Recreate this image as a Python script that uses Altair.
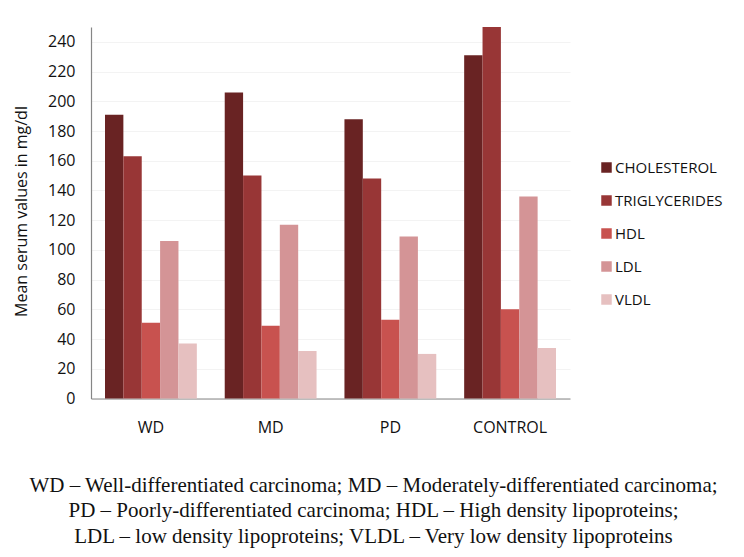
import altair as alt
import pandas as pd

groups = ["WD", "MD", "PD", "CONTROL"]
lipids = ["CHOLESTEROL", "TRIGLYCERIDES", "HDL", "LDL", "VLDL"]
cholesterol = [191, 206, 188, 231]
triglycerides = [163, 150, 148, 250]
hdl = [51, 49, 53, 60]
ldl = [106, 117, 109, 136]
vldl = [37, 32, 30, 34]
colors = ["#692323", "#983636", "#C8524F", "#D49496", "#E6C0C0"]
y_ticks = list(range(0, 241, 20))
caption = [
    "WD \u2013 Well-differentiated carcinoma; MD \u2013 Moderately-differentiated carcinoma;",
    "PD \u2013 Poorly-differentiated carcinoma; HDL \u2013 High density lipoproteins;",
    "LDL \u2013 low density lipoproteins; VLDL \u2013 Very low density lipoproteins",
]

series = [cholesterol, triglycerides, hdl, ldl, vldl]
rows = []
for lip, vals in zip(lipids, series):
    for g, v in zip(groups, vals):
        rows.append({"group": g, "lipid": lip, "value": v})
df = pd.DataFrame(rows)

font = "Open Sans"

chart = alt.Chart(df).mark_bar().encode(
    x=alt.X("group:N", sort=groups,
            scale=alt.Scale(paddingInner=0.233, paddingOuter=0.117),
            axis=alt.Axis(title=None, labelAngle=0, labelFont=font, labelFontSize=16,
                          labelColor="#111111", labelPadding=21, ticks=False,
                          domainColor="#868686", domainWidth=1.2, grid=False)),
    xOffset=alt.XOffset("lipid:N", sort=lipids),
    y=alt.Y("value:Q", scale=alt.Scale(domain=[0, 250], nice=False),
            axis=alt.Axis(title="Mean serum values in mg/dl", values=y_ticks,
                          labelFont=font, labelFontSize=16, labelColor="#111111",
                          labelPadding=16, ticks=False, domainColor="#868686",
                          domainWidth=1.2, gridColor="#f3f3f3",
                          titleFont=font, titleFontSize=16, titleFontWeight="normal",
                          titleColor="#111111", titleX=-70, titleY=184,
                          titleAngle=-90, titleAlign="center", titleBaseline="middle")),
    color=alt.Color("lipid:N", sort=lipids,
                    scale=alt.Scale(domain=lipids, range=colors),
                    legend=alt.Legend(title=None, orient="none", legendX=508, legendY=133,
                                      symbolType="square", symbolSize=110,
                                      symbolStrokeWidth=0, labelFont=font,
                                      labelFontSize=15, labelColor="#111111",
                                      rowPadding=17, labelOffset=1)),
).properties(
    width=479,
    height=371.5,
    title=alt.TitleParams(caption, orient="bottom", frame="group", anchor="middle",
                          offset=39, dx=43, baseline="top", font="Liberation Serif",
                          fontSize=21, fontWeight="normal", color="#111111",
                          lineHeight=25.5),
    autosize=alt.AutoSizeParams(type="none"),
    padding={"left": 83, "top": 19, "right": 166, "bottom": 151},
).configure(background="white").configure_view(stroke="white", strokeOpacity=0, strokeWidth=0)

chart.save("out.html", embed_options={"renderer": "svg", "actions": False})
